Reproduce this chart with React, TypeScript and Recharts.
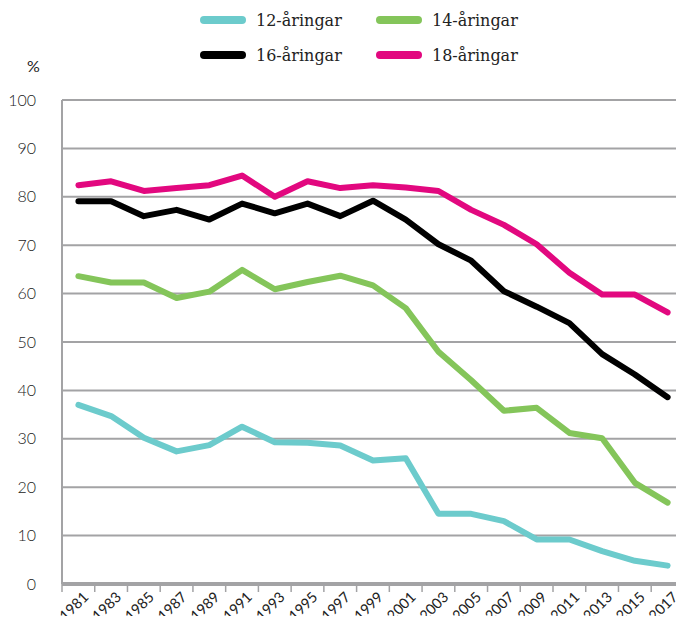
import { CartesianGrid, Line, LineChart, XAxis, YAxis } from 'recharts';

const years = [
  '1981', '1983', '1985', '1987', '1989', '1991', '1993', '1995', '1997', '1999',
  '2001', '2003', '2005', '2007', '2009', '2011', '2013', '2015', '2017',
];
const age12 = [37, 34.7, 30.2, 27.4, 28.7, 32.5, 29.3, 29.2, 28.6, 25.5, 26, 14.5, 14.5, 13, 9.2, 9.2, 6.8, 4.8, 3.8];
const age14 = [63.6, 62.3, 62.3, 59.1, 60.4, 64.9, 60.9, 62.4, 63.7, 61.7, 57, 48, 42.1, 35.8, 36.4, 31.2, 30.1, 20.9, 16.8];
const age16 = [79.1, 79.1, 76, 77.3, 75.3, 78.6, 76.6, 78.6, 76, 79.2, 75.3, 70.2, 66.8, 60.5, 57.3, 53.9, 47.5, 43.3, 38.6];
const age18 = [82.4, 83.2, 81.2, 81.8, 82.4, 84.4, 80, 83.2, 81.8, 82.4, 81.9, 81.2, 77.3, 74.2, 70.2, 64.3, 59.8, 59.8, 56.1];
const yTicks = [0, 10, 20, 30, 40, 50, 60, 70, 80, 90, 100];

const series = [
  { key: 'a12', name: '12-åringar', color: '#6ccbcc', values: age12 },
  { key: 'a14', name: '14-åringar', color: '#84c55a', values: age14 },
  { key: 'a16', name: '16-åringar', color: '#000000', values: age16 },
  { key: 'a18', name: '18-åringar', color: '#e2087f', values: age18 },
];

const data = years.map((y, i) => ({
  year: y,
  a12: age12[i],
  a14: age14[i],
  a16: age16[i],
  a18: age18[i],
}));

const GRID = '#a3a3a5';
const HALF_BAND = 16.4;

// tick line sits on the band boundary, label hangs off the point
function YearTick({ x, payload }: any) {
  return (
    <g>
      <line x1={x - HALF_BAND} x2={x - HALF_BAND} y1={584} y2={592} stroke={GRID} strokeWidth={1.5} />
      <text
        x={x + 11}
        y={598}
        textAnchor="end"
        transform={`rotate(-45 ${x + 11} 598)`}
        fontSize={14.5}
        fontFamily="Lato, sans-serif"
        fill="#222"
      >
        {payload.value}
      </text>
    </g>
  );
}

function Key() {
  return (
    <div style={{ position: 'absolute', left: 0, top: 0, width: 684, height: 80 }}>
      {series.map((s, i) => (
        <div
          key={s.key}
          style={{
            position: 'absolute',
            left: 200 + (i % 2) * 176,
            top: 8 + Math.floor(i / 2) * 35,
            display: 'flex',
            alignItems: 'center',
            height: 24,
          }}
        >
          <span style={{ width: 46, height: 8, borderRadius: 4, background: s.color, marginRight: 10 }} />
          <span style={{ fontFamily: '"DejaVu Serif", serif', fontSize: 16, color: '#222' }}>{s.name}</span>
        </div>
      ))}
    </div>
  );
}

export default function App() {
  return (
    <div style={{ margin: -8, position: 'relative', width: 684, height: 624, background: '#fff' }}>
      <LineChart width={684} height={624} data={data} margin={{ top: 100, right: 0, bottom: 0, left: 0 }}>
        <CartesianGrid vertical={false} stroke={GRID} strokeWidth={2} />
        <XAxis
          dataKey="year"
          height={40}
          padding={{ left: HALF_BAND, right: HALF_BAND }}
          axisLine={{ stroke: GRID, strokeWidth: 4 }}
          tickLine={false}
          interval={0}
          tick={<YearTick />}
        />
        <YAxis
          width={62}
          domain={[0, 100]}
          ticks={yTicks}
          axisLine={{ stroke: GRID, strokeWidth: 2 }}
          tickLine={false}
          tickMargin={20}
          tick={{ fontSize: 16, fontFamily: 'Lato, sans-serif', fill: '#222', fontWeight: 300 }}
        />
        {series.map((s) => (
          <Line
            key={s.key}
            dataKey={s.key}
            name={s.name}
            stroke={s.color}
            strokeWidth={6}
            strokeLinecap="round"
            strokeLinejoin="round"
            dot={false}
            activeDot={false}
            type="linear"
            isAnimationActive={false}
          />
        ))}
      </LineChart>
      <Key />
      <div
        style={{
          position: 'absolute',
          left: 27,
          top: 56,
          fontFamily: 'Lato, sans-serif',
          fontSize: 16,
          color: '#222',
        }}
      >
        %
      </div>
    </div>
  );
}
